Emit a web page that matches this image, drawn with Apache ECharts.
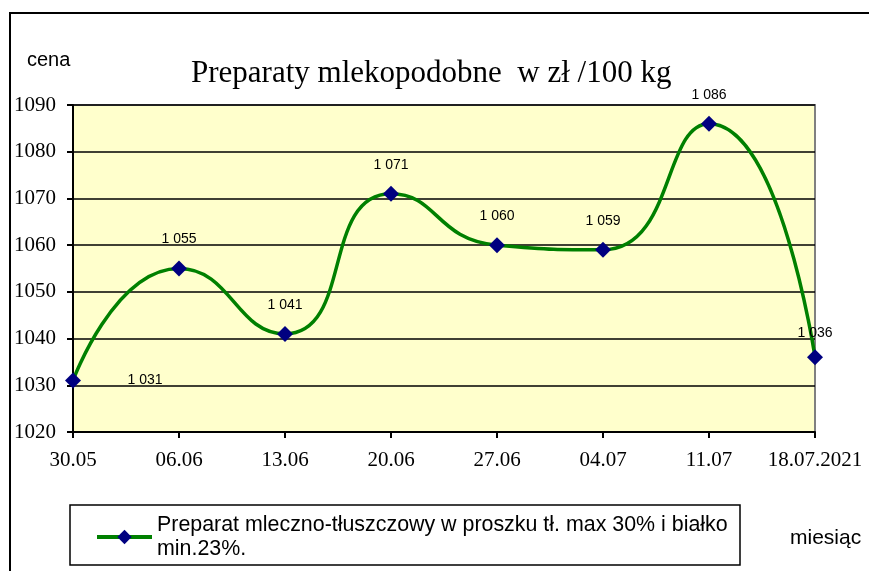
<!DOCTYPE html>
<html>
<head>
<meta charset="utf-8">
<script src="https://cdn.jsdelivr.net/npm/echarts@6/dist/echarts.min.js"></script>
<style>
    html, body { margin: 0; padding: 0; background: #fff; }
    #chart { width: 869px; height: 571px; }
</style>
</head>
<body>
<div id="chart"></div>
<script>
    // dane
    var categories = ['30.05', '06.06', '13.06', '20.06', '27.06', '04.07', '11.07', '18.07.2021'];
    var prices = [1031, 1055, 1041, 1071, 1060, 1059, 1086, 1036];
    var seriesName = 'Preparat mleczno-tłuszczowy w proszku tł. max 30% i białko min.23%.';
    var yTicks = { min: 1020, max: 1090, interval: 10 };

    var serif = '"Liberation Serif", "Times New Roman", serif';
    var sans = '"Liberation Sans", Arial, sans-serif';

    function fmt(v) {
        var s = String(v);
        return s.slice(0, s.length - 3) + ' ' + s.slice(-3);
    }

    var myChart = echarts.init(document.getElementById('chart'));

    var option = {
        animation: false,
        title: {
            text: 'Preparaty mlekopodobne  w zł /100 kg',
            left: 186,
            top: 53,
            textStyle: { fontFamily: serif, fontSize: 31, fontWeight: 'normal', color: '#000' }
        },
        grid: {
            left: 73,
            right: 54,
            top: 105,
            bottom: 139,
            show: true,
            backgroundColor: '#ffffcc',
            borderColor: '#808080',
            borderWidth: 2
        },
        legend: {
            left: 95,
            top: 501,
            padding: 0,
            itemWidth: 55,
            itemHeight: 18,
            itemGap: 0,
            lineStyle: { width: 4 },
            textStyle: { fontFamily: sans, fontSize: 21.4, color: '#000', lineHeight: 24, padding: [24, 0, 0, 0] },
            formatter: function () {
                return 'Preparat mleczno-tłuszczowy w proszku tł. max 30% i białko\nmin.23%.';
            },
            data: [seriesName]
        },
        xAxis: {
            type: 'category',
            data: categories,
            boundaryGap: false,
            axisLine: { lineStyle: { color: '#000', width: 2 } },
            axisTick: { show: true, interval: 0, length: 6, lineStyle: { color: '#000', width: 2 } },
            axisLabel: { interval: 0, fontFamily: serif, fontSize: 21, color: '#000', margin: 18 }
        },
        yAxis: {
            type: 'value',
            min: yTicks.min,
            max: yTicks.max,
            interval: yTicks.interval,
            axisLine: { show: true, lineStyle: { color: '#000', width: 2 } },
            axisTick: { show: true, length: 6, lineStyle: { color: '#000', width: 2 } },
            axisLabel: {
                fontFamily: serif, fontSize: 21, color: '#000', margin: 17,
                formatter: function (v) { return String(v); }
            },
            splitLine: { lineStyle: { color: '#000', width: 1.5 } }
        },
        graphic: [
            { type: 'rect', shape: { x: 10, y: 13, width: 880, height: 580 }, style: { fill: 'none', stroke: '#000', lineWidth: 2 }, z: -10 },
            { type: 'rect', shape: { x: 70, y: 505, width: 670, height: 60 }, style: { fill: 'none', stroke: '#000', lineWidth: 1.5 } },
            { type: 'text', left: 27, top: 50, style: { text: 'cena', font: '20px ' + sans, fill: '#000' } },
            { type: 'text', left: 790, top: 528, style: { text: 'miesiąc', font: '21px ' + sans, fill: '#000' } }
        ],
        series: [
            {
                name: seriesName,
                type: 'line',
                data: prices,
                smooth: 0.55,
                symbol: 'diamond',
                symbolSize: 16,
                lineStyle: { color: '#008000', width: 3.5 },
                itemStyle: { color: '#000080' },
                label: {
                    show: true,
                    position: 'top',
                    distance: 14,
                    fontFamily: sans,
                    fontSize: 14,
                    color: '#000',
                    formatter: function (p) { return fmt(p.value); }
                },
                labelLayout: function (params) {
                    if (params.dataIndex === 0) {
                        return { dx: 72, dy: 29 };
                    }
                    if (params.dataIndex === 7) {
                        return { dy: 5 };
                    }
                    return {};
                }
            }
        ]
    };

    myChart.setOption(option);
</script>
</body>
</html>
